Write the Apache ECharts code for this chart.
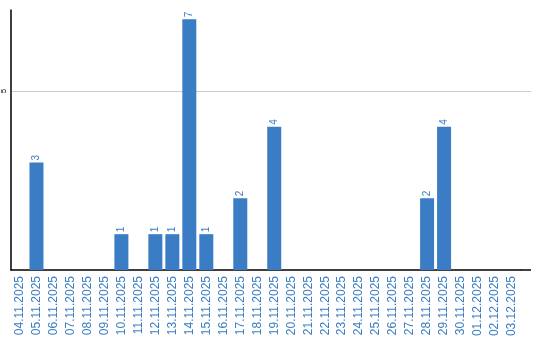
<!DOCTYPE html>
<html><head><meta charset="utf-8">
<script src="https://cdn.jsdelivr.net/npm/echarts@6/dist/echarts.min.js"></script>
<style>html,body{margin:0;padding:0;background:#fff}#c{width:540px;height:340px}</style>
</head><body><div id="c"></div>
<script>
const categories = ["04.11.2025","05.11.2025","06.11.2025","07.11.2025","08.11.2025","09.11.2025","10.11.2025","11.11.2025","12.11.2025","13.11.2025","14.11.2025","15.11.2025","16.11.2025","17.11.2025","18.11.2025","19.11.2025","20.11.2025","21.11.2025","22.11.2025","23.11.2025","24.11.2025","25.11.2025","26.11.2025","27.11.2025","28.11.2025","29.11.2025","30.11.2025","01.12.2025","02.12.2025","03.12.2025"];
const values = [0,3,0,0,0,0,1,0,1,1,7,1,0,2,0,4,0,0,0,0,0,0,0,0,2,4,0,0,0,0];
const yTicks = [5];

const chart = echarts.init(document.getElementById('c'));
const option = {
  animation: false,
  grid: {left: 10.5, right: 19.5, top: 10, bottom: 70, containLabel: false},
  xAxis: {
    type: 'category', data: categories,
    axisLine: {lineStyle: {color: '#000', width: 1.5}},
    axisTick: {show: false},
    axisLabel: {rotate: 90, interval: 0, color: '#3a7dc4', fontSize: 12, fontFamily: 'Liberation Sans, Arial', margin: 6}
  },
  yAxis: {
    type: 'value', min: 0, max: 7.26, interval: 5,
    axisLine: {show: true, lineStyle: {color: '#000', width: 1.5}},
    axisTick: {show: false},
    splitLine: {showMaxLine: false, showMinLine: false, lineStyle: {color: '#ccc'}},
    axisLabel: {showMinLabel: false, showMaxLabel: false, rotate: 90, fontSize: 8, color: '#000', margin: 3,
      formatter: v => yTicks.includes(v) ? String(v) : ''}
  },
  series: [{
    type: 'bar', data: values.map(v => v === 0 ? null : v), barWidth: 14,
    itemStyle: {color: '#3a7dc4'},
    label: {show: true, position: 'top', rotate: 90, align: 'left', verticalAlign: 'middle', distance: 2,
      color: '#3a7dc4', fontSize: 10, fontFamily: 'Liberation Sans, Arial'}
  }]
};
chart.setOption(option);
// extend axis line and gridline to the right edge of the plot frame
const rightEdge = 531;
const gridRight = 540 - 19.5;
const y0 = chart.convertToPixel({yAxisIndex: 0}, 0);
const g = [{type: 'line', shape: {x1: gridRight, y1: y0, x2: rightEdge, y2: y0}, style: {stroke: '#000', lineWidth: 1.5}}];
yTicks.forEach(t => {
  const y = Math.round(chart.convertToPixel({yAxisIndex: 0}, t)) + 0.5;
  g.push({type: 'line', shape: {x1: gridRight, y1: y, x2: rightEdge, y2: y}, style: {stroke: '#ccc', lineWidth: 1}, z: -1});
});
chart.setOption({graphic: g});
</script></body></html>
